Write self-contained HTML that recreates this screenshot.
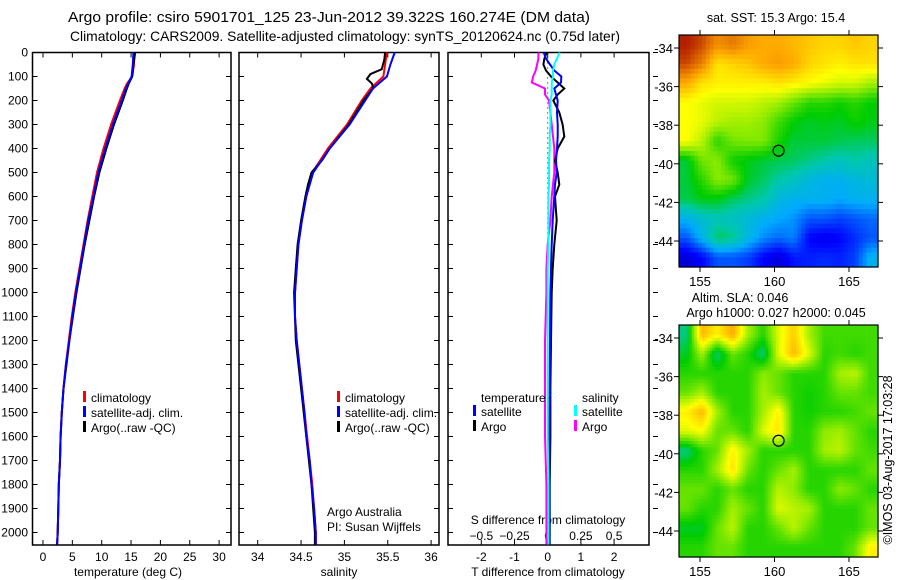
<!DOCTYPE html>
<html><head><meta charset="utf-8"><style>
html,body{margin:0;padding:0;background:#fff;}
svg{display:block;font-family:"Liberation Sans",sans-serif;}
text{fill:#000;}
</style></head><body>
<svg id="fig" width="900" height="580" viewBox="0 0 900 580">
<text x="68" y="22" font-size="14.5" textLength="522" lengthAdjust="spacingAndGlyphs">Argo profile: csiro 5901701_125 23-Jun-2012 39.322S 160.274E (DM data)</text>
<text x="70" y="41" font-size="13.8" textLength="550" lengthAdjust="spacingAndGlyphs">Climatology: CARS2009. Satellite-adjusted climatology: synTS_20120624.nc (0.75d later)</text>
<g id="g"></g>
</svg>
<script>
// ---- profile data ----
const depths=[0,50,100,130,150,200,300,400,500,600,700,800,900,1000,1100,1200,1300,1400,1500,1600,1700,1800,1900,2000,2050];
const tempClim=[15.6,15.5,15.2,14.3,13.9,13.1,11.6,10.3,9.2,8.4,7.6,6.9,6.2,5.5,4.9,4.4,3.9,3.5,3.2,3.0,2.9,2.7,2.6,2.5,2.4];
const tempSat=[15.4,15.3,15.1,14.5,14.1,13.4,11.9,10.6,9.4,8.6,7.7,7.0,6.3,5.6,5.0,4.5,3.9,3.5,3.2,3.0,2.9,2.7,2.6,2.5,2.4];
const tempArgo=[15.7,15.4,15.2,14.6,14.3,13.6,12.1,10.8,9.6,8.7,7.9,7.1,6.4,5.7,5.1,4.5,4.0,3.5,3.2,3.0,2.9,2.7,2.6,2.5,2.4];
const salDepths=[0,50,100,150,200,300,400,500,600,700,800,900,1000,1100,1200,1300,1400,1500,1600,1700,1800,1900,2000,2050];
const salClim=[35.49,35.47,35.45,35.30,35.20,35.03,34.81,34.63,34.56,34.51,34.47,34.45,34.43,34.43,34.45,34.48,34.51,34.54,34.57,34.60,34.63,34.65,34.67,34.67];
const salSat=[35.58,35.53,35.49,35.33,35.24,35.06,34.83,34.64,34.56,34.51,34.47,34.45,34.43,34.43,34.45,34.48,34.51,34.54,34.56,34.60,34.62,34.65,34.67,34.67];
const argoSalDepths=[0,30,70,90,110,130,150,200,300,400,450,500,550,600,700,800,900,1000,1200,1400,1600,1800,2000,2050];
const salArgo=[35.47,35.46,35.43,35.30,35.26,35.32,35.33,35.22,35.05,34.83,34.74,34.62,34.58,34.55,34.50,34.46,34.44,34.42,34.44,34.50,34.56,34.62,34.66,34.66];
const diffDepths=[0,25,50,75,100,125,150,175,200,250,300,350,400,450,500,550,600,700,800,900,1000,1200,1400,1600,1800,2000,2050];
const tDiffSat=[-0.12,-0.05,0.07,0.2,0.41,0.4,0.2,0.25,0.3,0.28,0.3,0.3,0.28,0.25,0.27,0.22,0.2,0.15,0.12,0.1,0.08,0.07,0.06,0.05,0.05,0.05,0.05];
const tDiffArgo=[-0.03,-0.1,-0.13,-0.05,0.1,0.3,0.5,0.3,0.17,0.35,0.45,0.5,0.3,0.22,0.3,0.35,0.22,0.27,0.2,0.15,0.12,0.1,0.08,0.08,0.06,0.06,0.06];
const sDiffArgo=[-0.07,-0.07,-0.08,-0.09,-0.11,-0.12,-0.02,-0.02,0.01,0.02,0.03,0.04,0.05,0.05,0.05,0.04,0.03,0.02,0.0,-0.01,-0.01,-0.02,-0.02,-0.02,-0.01,-0.01,-0.01];
const sDiffSat=[0.09,0.07,0.05,0.04,0.04,0.03,0.03,0.03,0.02,0.02,0.02,0.015,0.015,0.01,0.01,0.01,0.005,0.005,0.005,0.0,0.0,0.0,0.0,0.0,0.005,0.005,0.005];
const depthTicks=[0,100,200,300,400,500,600,700,800,900,1000,1100,1200,1300,1400,1500,1600,1700,1800,1900,2000];
const tempTicks=[0,5,10,15,20,25,30];
const salTicks=[34,34.5,35,35.5,36];
const tDiffTicks=[-2,-1,0,1,2];
const sDiffTicks=[-0.5,-0.25,0,0.25,0.5];
// ---- map data (colour index 0..1), rows north->south, cols west->east ----
const lonTicks=[155,160,165];
const latTicks=[-34,-36,-38,-40,-42,-44];
const sstGrid=[
[0.97,0.93,0.84,0.87,0.82,0.8,0.8,0.78,0.76,0.74,0.74,0.76,0.74],
[0.93,0.86,0.72,0.74,0.76,0.8,0.82,0.8,0.74,0.72,0.7,0.72,0.72],
[0.8,0.72,0.7,0.7,0.7,0.7,0.72,0.7,0.68,0.66,0.64,0.64,0.6],
[0.68,0.66,0.64,0.64,0.64,0.62,0.6,0.55,0.5,0.5,0.48,0.5,0.47],
[0.68,0.66,0.62,0.6,0.6,0.58,0.52,0.47,0.45,0.46,0.45,0.48,0.46],
[0.68,0.62,0.5,0.56,0.57,0.57,0.49,0.44,0.44,0.44,0.43,0.42,0.42],
[0.44,0.56,0.58,0.48,0.46,0.44,0.43,0.42,0.4,0.38,0.36,0.38,0.36],
[0.44,0.5,0.58,0.56,0.45,0.42,0.38,0.36,0.32,0.3,0.3,0.32,0.33],
[0.43,0.46,0.46,0.42,0.4,0.38,0.32,0.3,0.3,0.3,0.28,0.3,0.3],
[0.3,0.34,0.36,0.35,0.33,0.3,0.28,0.26,0.2,0.2,0.18,0.2,0.22],
[0.2,0.3,0.42,0.4,0.32,0.25,0.22,0.24,0.12,0.1,0.12,0.16,0.2],
[0.08,0.12,0.2,0.2,0.18,0.12,0.08,0.14,0.15,0.16,0.15,0.18,0.3]];
const slaGrid=[
[0.4,0.78,0.7,0.8,0.6,0.5,0.65,0.75,0.6,0.52,0.52,0.52,0.52],
[0.45,0.6,0.4,0.55,0.5,0.4,0.65,0.78,0.65,0.5,0.52,0.5,0.52],
[0.5,0.5,0.5,0.5,0.5,0.58,0.55,0.5,0.5,0.5,0.6,0.62,0.52],
[0.55,0.6,0.5,0.5,0.5,0.6,0.55,0.5,0.48,0.5,0.55,0.55,0.52],
[0.7,0.78,0.6,0.5,0.5,0.6,0.7,0.5,0.48,0.5,0.5,0.52,0.55],
[0.65,0.68,0.55,0.55,0.5,0.65,0.72,0.5,0.5,0.58,0.6,0.55,0.5],
[0.4,0.5,0.55,0.7,0.6,0.5,0.5,0.5,0.5,0.6,0.62,0.55,0.52],
[0.5,0.5,0.6,0.72,0.55,0.5,0.55,0.6,0.5,0.5,0.5,0.5,0.55],
[0.55,0.55,0.5,0.55,0.5,0.5,0.62,0.58,0.5,0.5,0.58,0.55,0.5],
[0.55,0.5,0.5,0.6,0.55,0.5,0.65,0.62,0.6,0.5,0.5,0.5,0.55],
[0.45,0.45,0.55,0.62,0.5,0.5,0.55,0.62,0.55,0.5,0.5,0.5,0.55],
[0.5,0.5,0.55,0.55,0.5,0.5,0.5,0.5,0.5,0.5,0.5,0.55,0.7]];
const argoLon=160.274, argoLat=-39.322;

const NS='http://www.w3.org/2000/svg';
const G=document.getElementById('g');
function mk(tag,attrs,parent){const e=document.createElementNS(NS,tag);for(const k in attrs)e.setAttribute(k,attrs[k]);(parent||G).appendChild(e);return e;}
function txt(x,y,s,size,anchor,parent){const e=mk('text',{x:x,y:y,'font-size':size,'text-anchor':anchor||'start'},parent);e.textContent=s;return e;}

const yD=d=>52.5+d*0.24;
const panels=[
 {name:'temperature',x0:32.5,x1:231,sx:v=>43+v*5.87},
 {name:'salinity',x0:239,x1:439,sx:v=>257.7+(v-34)*86.7},
 {name:'difference',x0:448,x1:649,sx:v=>547.7+v*33.2}];
const sxS=v=>547.7+v*132.8;

function poly(xs,ds,sx,color,name,parent){
 const pts=xs.map((v,i)=>sx(v).toFixed(1)+','+yD(ds[i]).toFixed(1)).join(' ');
 const e=mk('polyline',{points:pts,fill:'none',stroke:color,'stroke-width':2},parent);
 
 
 return e;
}
panels.forEach((p,pi)=>{
 const g=mk('g',{});
 
 
 const r=mk('rect',{x:p.x0,y:52.5,width:p.x1-p.x0,height:492.5,fill:'none',stroke:'#000','stroke-width':1.5},g);
 
 
 depthTicks.forEach(d=>{
  mk('line',{x1:p.x0,x2:p.x0+5,y1:yD(d),y2:yD(d),stroke:'#000'},g);
  if(pi<2) mk('line',{x1:p.x1-5,x2:p.x1,y1:yD(d),y2:yD(d),stroke:'#000'},g);
  else mk('line',{x1:p.x1+4,x2:p.x1+9,y1:yD(d),y2:yD(d),stroke:'#000'},g);
  if(pi===0){const t=txt(28,yD(d)+4,String(d),12,'end',g);
   
   }
 });
});
function xticks(ticks,sx,labelY,fmt,top,bottom,name){
 ticks.forEach(v=>{const x=sx(v);
  if(bottom) mk('line',{x1:x,x2:x,y1:545,y2:540,stroke:'#000'});
  if(top) mk('line',{x1:x,x2:x,y1:52.5,y2:57.5,stroke:'#000'});
  const t=txt(x,labelY,fmt(v),12,'middle');
  
  
 });
}
xticks(tempTicks,panels[0].sx,561,v=>String(v),true,true,'temperature-tick-label');
xticks(salTicks,panels[1].sx,561,v=>String(v),true,true,'salinity-tick-label');
xticks(tDiffTicks,panels[2].sx,561,v=>String(v),true,true,'t-diff-tick-label');
xticks(sDiffTicks,sxS,540,v=>String(v).replace('-','\u2212'),false,false,'s-diff-tick-label');
[[128,'temperature (deg C)','temperature-axis-title'],[339,'salinity','salinity-axis-title'],[548,'T difference from climatology','t-diff-axis-title']].forEach(a=>{
 const t=txt(a[0],576,a[1],12,'middle');});
{const t=txt(548,524,'S difference from climatology',12,'middle');}

poly(tempClim,depths,panels[0].sx,'#ff0000','temp-climatology-line');
poly(tempArgo,depths,panels[0].sx,'#000000','temp-argo-line');
poly(tempSat,depths,panels[0].sx,'#0000ff','temp-satellite-line');
poly(salClim,salDepths,panels[1].sx,'#ff0000','sal-climatology-line');
poly(salArgo,argoSalDepths,panels[1].sx,'#000000','sal-argo-line');
poly(salSat,salDepths,panels[1].sx,'#0000ff','sal-satellite-line');
{const z=mk('line',{x1:panels[2].sx(0),x2:panels[2].sx(0),y1:yD(0),y2:yD(2050),stroke:'#000','stroke-dasharray':'1,4'});
 }
poly(sDiffArgo,diffDepths,sxS,'#ff00ff','s-diff-argo-line');
poly(tDiffArgo,diffDepths,panels[2].sx,'#000000','t-diff-argo-line');
poly(tDiffSat,diffDepths,panels[2].sx,'#0000ff','t-diff-satellite-line');
poly(sDiffSat,diffDepths,sxS,'#00ffff','s-diff-satellite-line');

function legend(x,y,items,name){
 const g=mk('g',{});
 items.forEach((it,i)=>{const yy=y+i*15;
  if(it[1]) mk('rect',{x:x,y:yy-11,width:3,height:11,fill:it[1]},g);
  txt(x+(it[1]?8:0),yy,it[0],12,'start',g);});
}
legend(83,402,[['climatology','#ff0000'],['satellite-adj. clim.','#0000ff'],['Argo(..raw -QC)','#000000']],'temperature-legend');
legend(337,402,[['climatology','#ff0000'],['satellite-adj. clim.','#0000ff'],['Argo(..raw -QC)','#000000']],'salinity-legend');
legend(481,402,[['temperature',null]],'diff-legend-temp-header');
legend(473,416,[['satellite','#0000ff'],['Argo','#000000']],'diff-legend-temp');
legend(582,402,[['salinity',null]],'diff-legend-sal-header');
legend(574,416,[['satellite','#00ffff'],['Argo','#ff00ff']],'diff-legend-sal');
{const t=txt(327,516,'Argo Australia',12);
 const t2=txt(327,531,'PI: Susan Wijffels',12);}

const stops=[[0,[0,0,140]],[0.12,[0,0,255]],[0.28,[0,170,255]],[0.38,[0,200,170]],[0.47,[0,205,0]],[0.58,[140,235,0]],[0.68,[255,255,0]],[0.8,[255,170,0]],[0.9,[220,100,0]],[1,[160,0,0]]];
function cmap(t){t=Math.max(0,Math.min(1,t));for(let i=1;i<stops.length;i++){if(t<=stops[i][0]){const a=stops[i-1],b=stops[i],f=(t-a[0])/(b[0]-a[0]);return 'rgb('+a[1].map((c,k)=>Math.round(c+(b[1][k]-c)*f)).join(',')+')';}}return 'rgb(160,0,0)';}
function drawMap(grid,x0,y0,w,h,latAt34,latAt44,name,up,smooth){
 const g=mk('g',{});
 const R=grid.length,C=grid[0].length;
 const NR=R*up,NC=C*up,cw=w/NC,ch=h/NR;
 for(let i=0;i<NR;i++)for(let j=0;j<NC;j++){
  let v;
  if(smooth){const fr=Math.max(0,Math.min(R-1,(i+0.5)/up-0.5)),fc=Math.max(0,Math.min(C-1,(j+0.5)/up-0.5));
   const r0=Math.floor(fr),c0=Math.floor(fc),r1=Math.min(R-1,r0+1),c1=Math.min(C-1,c0+1),a=fr-r0,b=fc-c0;
   v=grid[r0][c0]*(1-a)*(1-b)+grid[r0][c1]*(1-a)*b+grid[r1][c0]*a*(1-b)+grid[r1][c1]*a*b;}
  else v=grid[Math.floor(i/up)][Math.floor(j/up)];
  mk('rect',{x:(x0+j*cw).toFixed(2),y:(y0+i*ch).toFixed(2),width:(cw+0.6).toFixed(2),height:(ch+0.6).toFixed(2),fill:cmap(v)},g);
 }
 const lx=lon=>700+(lon-155)*14.9;
 const ly=lat=>latAt34+(-34-lat)*(latAt44-latAt34)/10;
 mk('rect',{x:x0,y:y0,width:w,height:h,fill:'none',stroke:'#000','stroke-width':1.2},g);
 lonTicks.forEach(l=>{mk('line',{x1:lx(l),x2:lx(l),y1:y0,y2:y0-5,stroke:'#000'},g);mk('line',{x1:lx(l),x2:lx(l),y1:y0+h,y2:y0+h+5,stroke:'#000'},g);
  const t=txt(lx(l),y0+h+19,String(l),13,'middle',g);});
 latTicks.forEach(l=>{mk('line',{x1:x0,x2:x0-5,y1:ly(l),y2:ly(l),stroke:'#000'},g);mk('line',{x1:x0+w,x2:x0+w+5,y1:ly(l),y2:ly(l),stroke:'#000'},g);
  const t=txt(x0-6,ly(l)+5,String(l),13,'end',g);});
 const c=mk('circle',{cx:lx(argoLon),cy:ly(argoLat),r:5.5,fill:'none',stroke:'#000','stroke-width':1.2},g);
 
}
drawMap(sstGrid,679,35,199,232,48,241,'sst-map',4,true);
drawMap(slaGrid,679,325,199,232,338,531,'sla-map',6,true);
[[776,22,'sat. SST: 15.3 Argo: 15.4','sst-map-title'],[740,302,'Altim. SLA: 0.046','sla-map-title'],[776,317,'Argo h1000: 0.027 h2000: 0.045','sla-map-subtitle']].forEach(a=>{
 const t=txt(a[0],a[1],a[2],12.5,'middle');});
{const t=txt(0,0,'\u00a9IMOS 03-Aug-2017 17:03:28',12.5,'middle');t.setAttribute('transform','translate(892,460) rotate(-90)');
 }
</script>
</body></html>
